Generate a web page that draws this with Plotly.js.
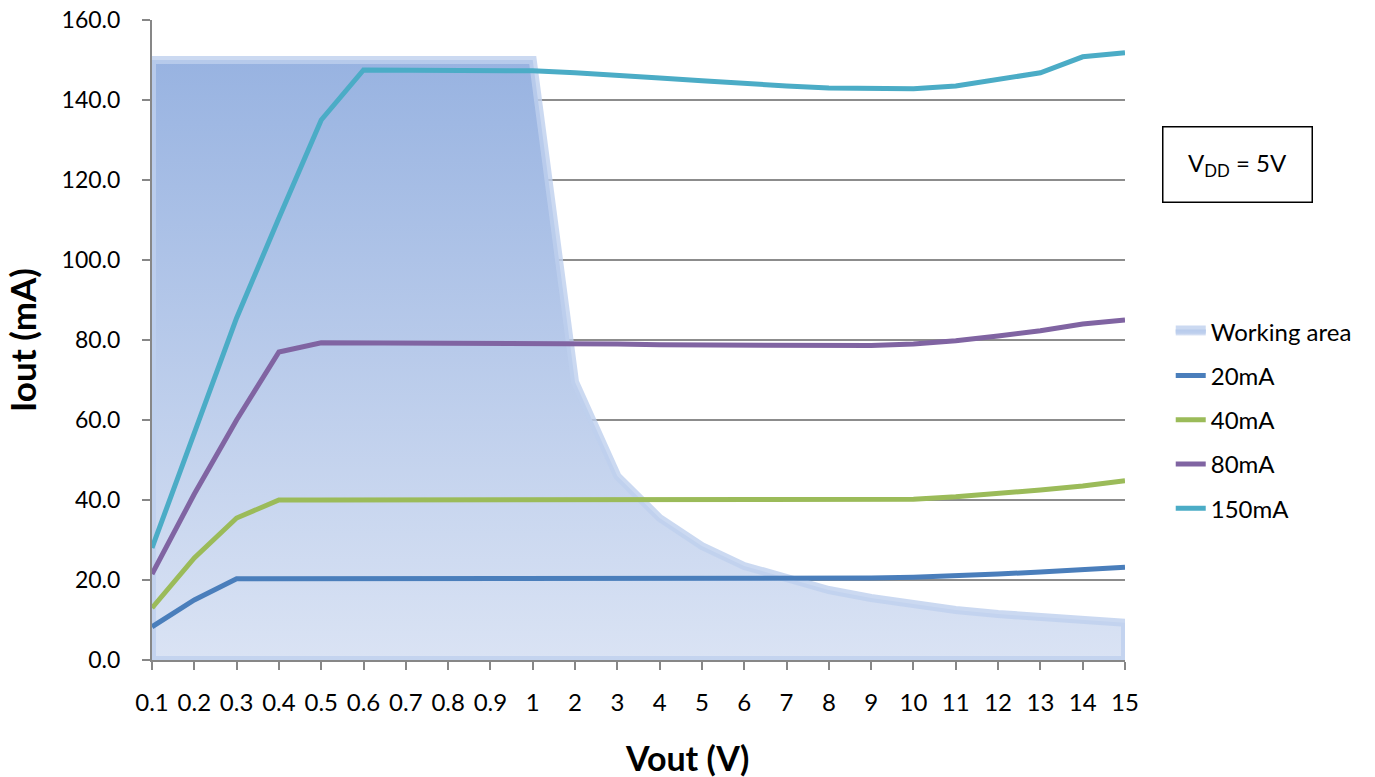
<!DOCTYPE html>
<html>
<head>
<meta charset="utf-8">
<script src="https://cdn.plot.ly/plotly-3.0.1.min.js"></script>
<style>html,body{margin:0;padding:0;background:#fff;}#chart{width:1375px;height:777px;}</style>
</head>
<body>
<div id="chart"></div>
<script>
const categories = ['0.1','0.2','0.3','0.4','0.5','0.6','0.7','0.8','0.9','1','2','3','4','5','6','7','8','9','10','11','12','13','14','15'];
const workingArea = [150,150,150,150,150,150,150,150,150,150,69.5,46,35.5,28.5,23.5,20.3,17.5,15.5,13.8,12.5,11.5,10.8,10,9.3];
const i20mA  = [8.3,15,20.3,20.3,20.3,20.3,20.3,20.3,20.3,20.3,20.3,20.3,20.3,20.3,20.3,20.3,20.3,20.5,20.7,21,21.5,22,22.5,23.2];
const i40mA  = [13,25.5,35.5,40,40,40,40,40,40,40,40,39.9,39.9,39.9,39.9,39.9,39.9,40,40.2,40.8,41.5,42.5,43.5,44.8];
const i80mA  = [21.5,41.5,60,77,79.3,79.3,79.3,79.3,79.3,79.2,79,79,78.8,78.8,78.6,78.5,78.5,78.6,79,79.8,81,82.3,84,85];
const i150mA = [28,57,85.5,110.5,135,147.5,147.5,147.5,147.3,147.3,146.8,146,145.5,144.8,144,143.5,143,142.8,142.8,143.5,145.3,146.8,150.8,151.8];
const seriesNames = ['Working area','20mA','40mA','80mA','150mA'];
const seriesColors = ['#4a7ebb','#9bbb59','#8064a2','#4bacc6'];
const xTitle = 'Vout (V)';
const yTitle = 'Iout (mA)';
const noteText = 'V<sub>DD</sub> = 5V';

const font = 'Lato, "Open Sans", sans-serif';
const last = categories.length - 1;

const areaX = [categories[0]].concat(categories, [categories[last], categories[0]]);
const areaY = [0].concat(workingArea, [0, 0]);

const traces = [{
  type: 'scatter', mode: 'lines', name: seriesNames[0], legendgroup: 'a',
  x: areaX, y: areaY, fill: 'toself',
  fillgradient: {type: 'vertical', colorscale: [[0, '#dae3f4'], [1, '#98b3e1']]},
  fillcolor: '#b5c8ea',
  line: {color: 'rgba(190,208,238,0.8)', width: 8}
}];
const lineSeries = [i20mA, i40mA, i80mA, i150mA];
lineSeries.forEach((ys, k) => {
  traces.push({
    type: 'scatter', mode: 'lines', name: seriesNames[k + 1], legendgroup: 'g' + k,
    x: categories, y: ys,
    line: {color: seriesColors[k], width: 5}
  });
});

const layout = {
  width: 1375, height: 777,
  margin: {l: 152, r: 250, t: 20, b: 117},
  paper_bgcolor: '#fff', plot_bgcolor: '#fff',
  font: {family: font, size: 24, color: '#000'},
  showlegend: true,
  legend: {x: 1.047, xanchor: 'left', y: 0.548, yanchor: 'top', traceorder: 'grouped', tracegroupgap: 10,
           font: {family: font, size: 24, color: '#000'}, bgcolor: 'rgba(0,0,0,0)'},
  xaxis: {
    type: 'category', categoryorder: 'array', categoryarray: categories,
    range: [0, last], showgrid: false, zeroline: false, automargin: false,
    showline: true, linecolor: '#878787', linewidth: 2,
    ticks: 'outside', ticklen: 8, tickwidth: 2, tickcolor: '#878787',
    tickangle: 0, ticklabelstandoff: 12,
    tickfont: {family: font, size: 24, color: '#000'}
  },
  yaxis: {
    range: [0, 160], dtick: 20, tickformat: '.1f', automargin: false,
    showgrid: true, gridcolor: '#8c8c8c', gridwidth: 2, zeroline: false,
    showline: true, linecolor: '#878787', linewidth: 2,
    ticks: 'outside', ticklen: 8, tickwidth: 2, tickcolor: '#878787',
    ticklabelstandoff: 17,
    tickfont: {family: font, size: 23, color: '#000'}
  },
  annotations: [{
    xref: 'paper', yref: 'paper', x: 1.116, y: 0.775, xanchor: 'center', yanchor: 'middle',
    text: noteText, showarrow: false,
    font: {family: font, size: 24, color: '#000'},
    bordercolor: '#000', borderwidth: 1.5, width: 146, height: 72, bgcolor: '#fff'
  }, {
    xref: 'paper', yref: 'paper', x: (687 - 152) / 973, y: -0.1516, xanchor: 'center', yanchor: 'middle',
    text: '<b>' + xTitle + '</b>', showarrow: false,
    font: {family: font, size: 34, color: '#000'}
  }, {
    xref: 'paper', yref: 'paper', x: (22 - 152) / 973, y: 0.5, xanchor: 'center', yanchor: 'middle',
    text: '<b>' + yTitle + '</b>', showarrow: false, textangle: -90,
    font: {family: font, size: 35, color: '#000'}
  }]
};

Plotly.newPlot('chart', traces, layout, {displayModeBar: false});
</script>
</body>
</html>
